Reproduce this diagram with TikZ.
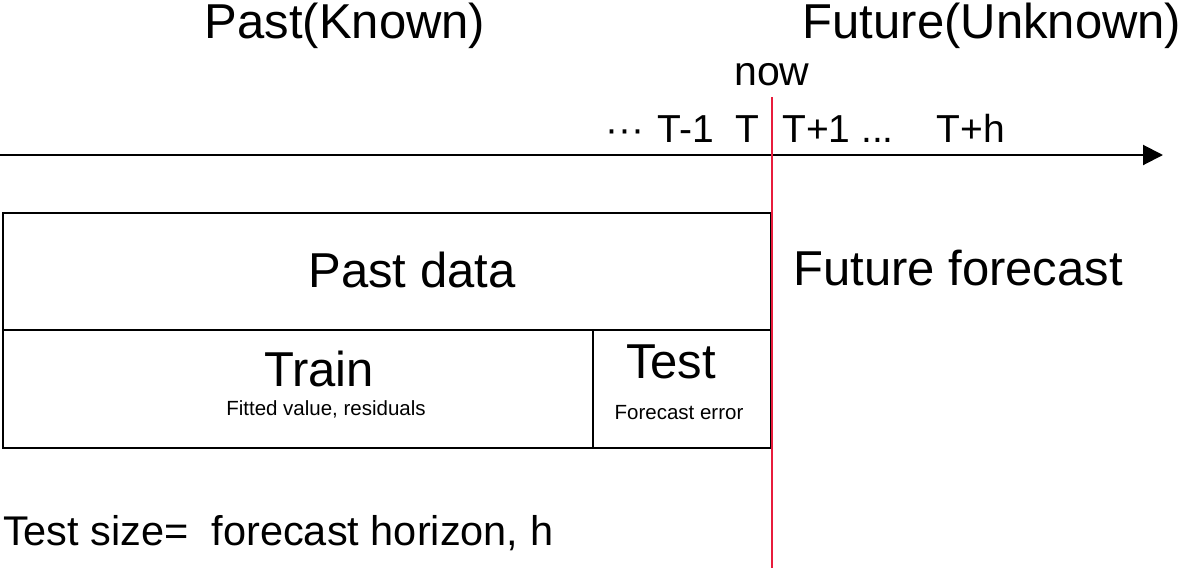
\documentclass[tikz,border=0pt]{standalone}
\usepackage{fontspec}
\setmainfont{Liberation Sans}
\usetikzlibrary{arrows.meta}
\definecolor{nowred}{RGB}{232,28,60}
\newcommand{\fs}[1]{\fontsize{#1}{#1}\selectfont}
\begin{document}
\begin{tikzpicture}[x=1pt,y=-1pt,
  lbl/.style={inner sep=0pt,outer sep=0pt,anchor=base,text=black},
  big/.style={lbl,font=\fs{49}},
  tick/.style={lbl,font=\fs{39}},
  small/.style={lbl,font=\fs{20.5}},
  boxline/.style={draw=black,line width=2.2pt},
  axis/.style={line width=2pt,-{Triangle[length=20pt,width=20pt]}},
  nowline/.style={draw=nowred,line width=2pt}]
\useasboundingbox (0,0) rectangle (1184,568);
% titles
\node[big] (past) at (345,38) {Past(Known)};
\node[big] (future) at (992,38) {Future(Unknown)};
\node[lbl,font=\fs{41}] (now) at (772,85) {now};
% timeline
\coordinate (axs) at (0,155);
\coordinate (axe) at (1163,155);
\draw[axis] (axs) -- (axe);
\node[tick] (dots) at (625,142) {\textperiodcentered\textperiodcentered\textperiodcentered};
\node[tick] (tm1) at (686,142) {T-1};
\node[tick] (t) at (747,142) {T};
\node[tick] (tp1) at (838,142) {T+1 ...};
\node[tick] (tph) at (971,142) {T+h};
% boxes
\coordinate (b1) at (3,213);
\coordinate (b2) at (771,330);
\coordinate (b3) at (593,448);
\coordinate (b4) at (3,330);
\coordinate (b5) at (771,448);
\draw[boxline] (b1) rectangle (b2);
\draw[boxline] (b4) rectangle (b3);
\draw[boxline] (b3 |- b4) rectangle (b5);
\node[big] (pastdata) at (412,287) {Past data};
\node[big] (futfc) at (958,285) {Future forecast};
\node[big] (train) at (319,386) {Train};
\node[big] (test) at (671,378) {Test};
\node[small] (fitted) at (326,415) {Fitted value, residuals};
\node[small] (fcerr) at (679,419) {Forecast error};
\node[lbl,anchor=base west,font=\fs{41.5}] (tsize) at (3,545) {Test size=\ \ forecast horizon, h};
% now line
\coordinate (nowtop) at (772,97);
\coordinate (nowbot) at (772,568);
\draw[nowline] (nowtop) -- (nowbot);
\end{tikzpicture}
\end{document}
